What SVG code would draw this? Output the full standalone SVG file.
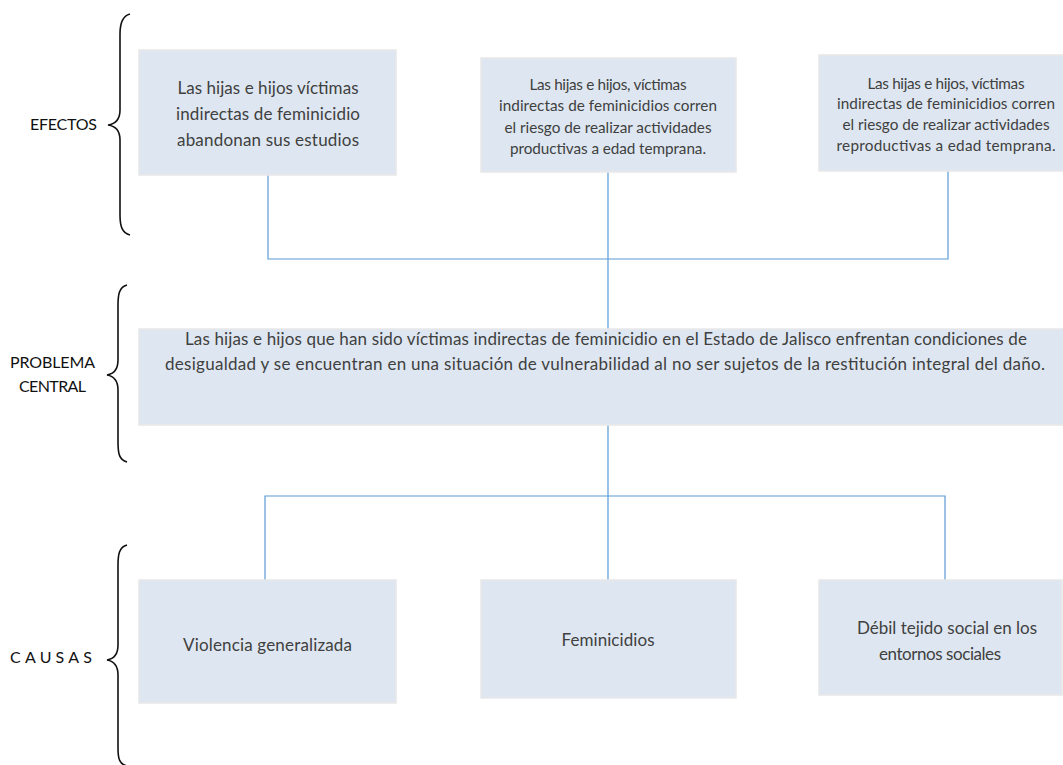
<svg xmlns="http://www.w3.org/2000/svg" width="1063" height="765" viewBox="0 0 1063 765">
<style>
.box{fill:#dee7f1;stroke:#e8e8e8;stroke-width:1.5}
.t{font-family:Lato,"Liberation Sans",sans-serif;fill:#404040;text-anchor:middle}
.lbl{font-family:Lato,"Liberation Sans",sans-serif;fill:#111;text-anchor:middle;font-size:16px}
.con{fill:none;stroke:#5b9bd5;stroke-width:1.2}
.brace{fill:none;stroke:#111;stroke-width:1.6}
</style>
<rect width="1063" height="765" fill="#fff"/>
<g id="connectors">
<path class="con" d="M268,175 V259 H948 V171"/>
<path class="con" d="M608,172 V329"/>
<path class="con" d="M608,425 V580"/>
<path class="con" d="M265,580 V496 H945 V580"/>
</g>
<g id="braces">
<path class="brace" d="M130,14 C122,16 120,24 120,34 L120,110 C120,120 115,124 108,125 C115,126 120,130 120,140 L120,215 C120,226 122,233 130,235"/>
<path class="brace" d="M127,285 C119,287 118,295 118,305 L118,360 C118,370 113,374 107,375 C113,376 118,380 118,390 L118,442 C118,453 119,460 127,462"/>
<path class="brace" d="M127,545 C119,547 118,555 118,565 L118,645 C118,655 113,659 107,660 C113,661 118,665 118,675 L118,748 C118,758 119,764 127,766"/>
</g>
<g id="label-efectos"><text class="lbl" x="63.5" y="130" textLength="67">EFECTOS</text></g>
<g id="label-problema"><text class="lbl" x="52.5" y="368" textLength="85">PROBLEMA</text><text class="lbl" x="52.5" y="392" textLength="67">CENTRAL</text></g>
<g id="label-causas"><text class="lbl" x="51" y="663" textLength="82">CAUSAS</text></g>
<g id="efecto1">
<rect class="box" x="139" y="50" width="257" height="125"/>
<text class="t" font-size="17" x="268" y="94" textLength="181">Las hijas e hijos víctimas</text>
<text class="t" font-size="17" x="268" y="120" textLength="184">indirectas de feminicidio</text>
<text class="t" font-size="17" x="268" y="146" textLength="182">abandonan sus estudios</text>
</g>
<g id="efecto2">
<rect class="box" x="481" y="58" width="255" height="114"/>
<text class="t" font-size="15.3" x="608" y="90" textLength="157">Las hijas e hijos, víctimas</text>
<text class="t" font-size="15.3" x="608" y="111" textLength="218">indirectas de feminicidios corren</text>
<text class="t" font-size="15.3" x="608" y="133" textLength="207">el riesgo de realizar actividades</text>
<text class="t" font-size="15.3" x="608" y="154" textLength="196">productivas a edad temprana.</text>
</g>
<g id="efecto3">
<rect class="box" x="819" y="55" width="245" height="116"/>
<text class="t" font-size="15.3" x="946" y="89" textLength="157">Las hijas e hijos, víctimas</text>
<text class="t" font-size="15.3" x="946" y="109" textLength="218">indirectas de feminicidios corren</text>
<text class="t" font-size="15.3" x="946" y="130" textLength="207">el riesgo de realizar actividades</text>
<text class="t" font-size="15.3" x="946" y="151" textLength="219">reproductivas a edad temprana.</text>
</g>
<g id="problema">
<rect class="box" x="139" y="329" width="925" height="96"/>
<text class="t" font-size="17" x="606" y="345" textLength="842">Las hijas e hijos que han sido víctimas indirectas de feminicidio en el Estado de Jalisco enfrentan condiciones de</text>
<text class="t" font-size="17" x="605" y="370" textLength="880">desigualdad y se encuentran en una situación de vulnerabilidad al no ser sujetos de la restitución integral del daño.</text>
</g>
<g id="causa1">
<rect class="box" x="139" y="580" width="257" height="123"/>
<text class="t" font-size="17" x="267.5" y="651" textLength="169">Violencia generalizada</text>
</g>
<g id="causa2">
<rect class="box" x="481" y="580" width="255" height="118"/>
<text class="t" font-size="17" x="608" y="646" textLength="93">Feminicidios</text>
</g>
<g id="causa3">
<rect class="box" x="819" y="580" width="243" height="115"/>
<text class="t" font-size="17" x="947" y="634" textLength="180">Débil tejido social en los</text>
<text class="t" font-size="17" x="940" y="660" textLength="122">entornos sociales</text>
</g>
</svg>
